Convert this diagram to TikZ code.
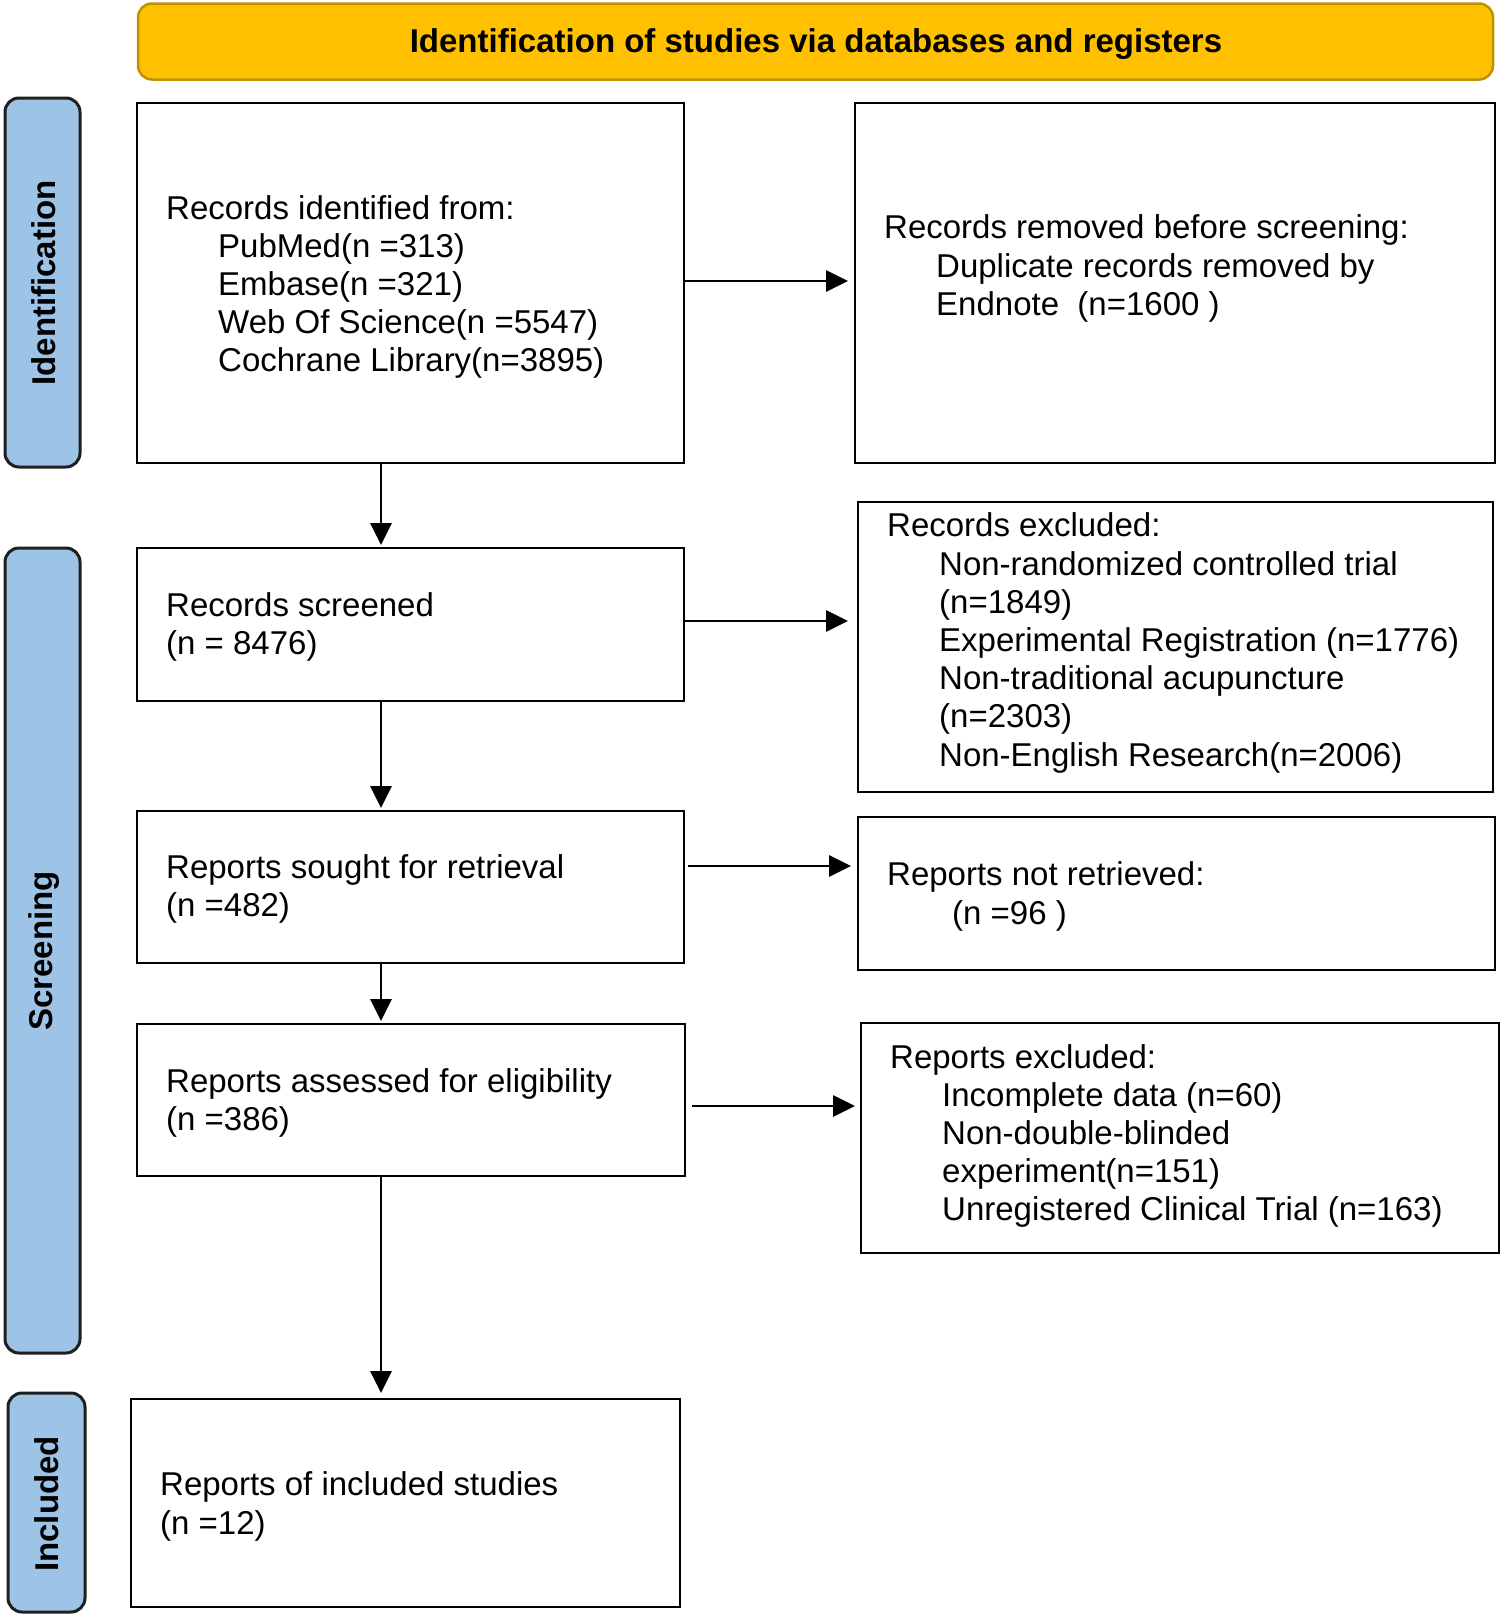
\documentclass[tikz,border=0pt]{standalone}
\usepackage{fontspec}
\setmainfont{Liberation Sans}
\usetikzlibrary{arrows.meta,calc}
\definecolor{hdrfill}{HTML}{FFC000}
\definecolor{hdrdraw}{HTML}{C09100}
\definecolor{sidefill}{HTML}{9DC3E6}
\definecolor{sidedraw}{HTML}{1F1F1F}
\begin{document}
\begin{tikzpicture}[x=1pt,y=-1pt,
 box/.style={draw=black,line width=2.8pt,fill=white,inner sep=0pt,outer sep=0pt},
 txt/.style={anchor=west,inner sep=0pt,align=left,font=\fontsize{33}{38.2}\selectfont},
 side/.style={draw=sidedraw,line width=3pt,fill=sidefill,rounded corners=14pt,inner sep=0pt},
 sidetxt/.style={rotate=90,font=\fontsize{33}{38}\selectfont\bfseries,inner sep=0pt},
 hdr/.style={draw=hdrdraw,line width=2.5pt,fill=hdrfill,rounded corners=14pt,inner sep=0pt},
 arr/.style={line width=2.8pt,-{Triangle[length=22pt,width=21pt]}}]
\useasboundingbox (0,0) rectangle (1502,1617);
\fill[white] (0,0) rectangle (1502,1617);

% header
\node[hdr,minimum width=1355pt,minimum height=76pt] (hdr) at (815.5,41.5) {};
\node[font=\fontsize{33}{38}\selectfont\bfseries,inner sep=0pt] (hdrt) at (816,44.5) {Identification of studies via databases and registers};

% side bars
\node[side,minimum width=75pt,minimum height=369pt] (s1) at (42.5,282.5) {};
\node[side,minimum width=75pt,minimum height=805pt] (s2) at (42.5,950.5) {};
\node[side,minimum width=77pt,minimum height=219pt] (s3) at (46.5,1502.5) {};
\node[sidetxt] (s1t) at (44,283) {Identification};
\node[sidetxt] (s2t) at (44,951) {Screening};
\node[sidetxt] (s3t) at (47,1504) {Included};

% boxes
\node[box,minimum width=547pt,minimum height=360pt] (b1) at (410.5,283) {};
\node[box,minimum width=640pt,minimum height=360pt] (b2) at (1175,283) {};
\node[box,minimum width=547pt,minimum height=153pt] (b3) at (410.5,624.5) {};
\node[box,minimum width=635pt,minimum height=290pt] (b4) at (1175.5,647) {};
\node[box,minimum width=547pt,minimum height=152pt] (b5) at (410.5,887) {};
\node[box,minimum width=637pt,minimum height=153pt] (b6) at (1176.5,893.5) {};
\node[box,minimum width=548pt,minimum height=152pt] (b7) at (411,1100) {};
\node[box,minimum width=638pt,minimum height=230pt] (b8) at (1180,1138) {};
\node[box,minimum width=549pt,minimum height=208pt] (b9) at (405.5,1503) {};

% texts
\node[txt] (t1) at (166,287) {Records identified from:\\
\hspace*{52pt}PubMed(n =313)\\
\hspace*{52pt}Embase(n =321)\\
\hspace*{52pt}Web Of Science(n =5547)\\
\hspace*{52pt}Cochrane Library(n=3895)};
\node[txt] (t2) at (884,268.5) {Records removed before screening:\\
\hspace*{52pt}Duplicate records removed by\\
\hspace*{52pt}Endnote\ \ (n=1600 )};
\node[txt] (t3) at (166,627) {Records screened\\(n = 8476)};
\node[txt] (t4) at (887,643) {Records excluded:\\
\hspace*{52pt}Non-randomized controlled trial\\
\hspace*{52pt}(n=1849)\\
\hspace*{52pt}Experimental Registration (n=1776)\\
\hspace*{52pt}Non-traditional acupuncture\\
\hspace*{52pt}(n=2303)\\
\hspace*{52pt}Non-English Research(n=2006)};
\node[txt] (t5) at (166,889) {Reports sought for retrieval\\(n =482)};
\node[txt] (t6) at (887,896.5) {Reports not retrieved:\\
\hspace*{65pt}(n =96 )};
\node[txt] (t7) at (166,1103) {Reports assessed for eligibility\\(n =386)};
\node[txt] (t8) at (890,1136) {Reports excluded:\\
\hspace*{52pt}Incomplete data (n=60)\\
\hspace*{52pt}Non-double-blinded\\
\hspace*{52pt}experiment(n=151)\\
\hspace*{52pt}Unregistered Clinical Trial (n=163)};
\node[txt] (t9) at (160,1506.5) {Reports of included studies\\(n =12)};

% connectors
\coordinate (vx) at (381,0);
\coordinate (h1) at (0,281);
\coordinate (h2) at (0,621);
\coordinate (h3) at (0,866);
\coordinate (h4) at (0,1106);
\draw[arr,shorten >=3pt] (b1.south -| vx) -- (b3.north -| vx);
\draw[arr,shorten >=3pt] (b3.south -| vx) -- (b5.north -| vx);
\draw[arr,shorten >=3pt] (b5.south -| vx) -- (b7.north -| vx);
\draw[arr,shorten >=6pt] (b7.south -| vx) -- (b9.north -| vx);
\draw[arr,shorten >=7pt] (b1.east |- h1) -- (b2.west |- h1);
\draw[arr,shorten >=10pt] (b3.east |- h2) -- (b4.west |- h2);
\draw[arr,shorten <=4pt,shorten >=7pt] (b5.east |- h3) -- (b6.west |- h3);
\draw[arr,shorten <=7pt,shorten >=6pt] (b7.east |- h4) -- (b8.west |- h4);
\end{tikzpicture}
\end{document}
